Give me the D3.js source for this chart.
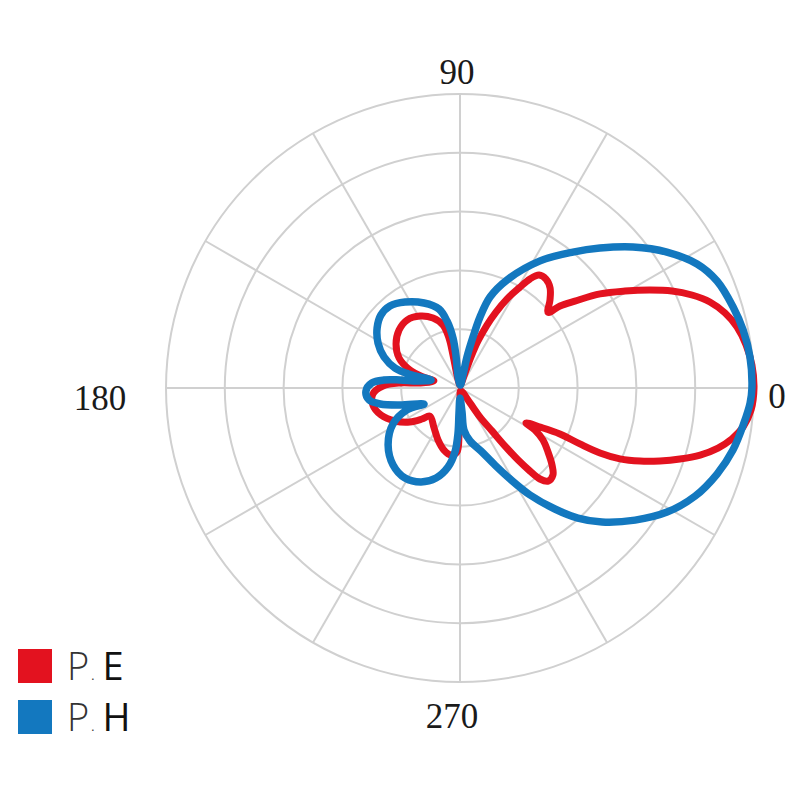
<!DOCTYPE html>
<html>
<head>
<meta charset="utf-8">
<title>Radiation pattern</title>
<style>
  body { margin: 0; background: #fff; }
</style>
</head>
<body>
<svg id="chart"></svg>
<script src="https://d3js.org/d3.v7.min.js"></script>
<script>
// points in drawing order: angle in degrees (counter-clockwise, 0 = right), value normalised to the max
var eAngles = [0, 4.5, 8.55, 12.4, 15.8, 19.0, 21.85, 24.6, 27.3, 30.45, 33.9, 37.1, 39.35, 40.6,
  44.35, 48.0, 51.7, 55.0, 57.3, 59.45, 62.2, 64.65, 66.8, 69.05, 70.5, 71.6, 80, 95,
  103, 102, 102.4, 105.1, 111.1, 119.05, 127.9, 136.45, 145.5, 153.8, 160.2, 163.4, 164.9,
  172.9, 175.2, 178.5, 183.9, 191.1, 198.9, 206.9, 214.2, 219.2, 223.0,
  237, 247.1, 255.5, 262.3, 267.3, 268.8, 270, 270, 285,
  303.7, 304.6, 306.7, 307.8, 308.9, 310.1, 311.3, 313.4, 316.9, 320.1, 324.0, 327.94, 330.75, 332.1,
  334.0, 335.3, 335.0, 335.1, 336.1, 337.9, 339.95, 342.1, 344.4, 346.9, 349.4, 352.15, 355.7];
var eValues = [1.0, 0.996, 0.984, 0.965, 0.937, 0.899, 0.850, 0.793, 0.727, 0.651, 0.574, 0.490, 0.440, 0.395,
  0.428, 0.458, 0.472, 0.469, 0.441, 0.395, 0.342, 0.286, 0.233, 0.171, 0.112, 0.054, 0.01, 0.01,
  0.045, 0.115, 0.174, 0.222, 0.255, 0.280, 0.293, 0.286, 0.264, 0.231, 0.181, 0.131, 0.092,
  0.137, 0.205, 0.262, 0.297, 0.302, 0.284, 0.248, 0.206, 0.167, 0.140,
  0.162, 0.192, 0.218, 0.230, 0.218, 0.160, 0.092, 0.034, 0.01,
  0.061, 0.120, 0.182, 0.250, 0.315, 0.369, 0.412, 0.436, 0.433, 0.408, 0.370, 0.333, 0.292, 0.254,
  0.303, 0.374, 0.450, 0.525, 0.595, 0.661, 0.724, 0.786, 0.848, 0.901, 0.941, 0.972, 0.993];

var hAngles = [0, 6.1, 11.58, 16.53, 22.6, 27.62, 33.3, 39.18, 45, 50.27, 57.79, 66.48, 71.75, 74.27, 75.7, 77.3, 77, 85,
  99.5, 97.1, 98.0, 101.0, 104.9, 112.95, 122.6, 130.5, 137.3, 144.1, 151.25, 157.8, 162.9, 164.85, 164.6,
  170.5, 172.4, 174.0, 176.7, 181.8, 187.5, 191.3, 195.8, 204.0,
  202.5, 208.25, 218.4, 229.0, 238.6, 247.5, 255.1, 261.4, 265.5, 267.5, 267.7, 270,
  274.8, 275.4, 280.7, 288.4, 294.4, 298.8, 303.2, 308.1, 312.2, 316.66, 322.97, 329.07, 335.3, 341.5, 347.2, 352.97, 357.0];
var hValues = [0.993, 0.992, 0.983, 0.969, 0.947, 0.910, 0.842, 0.759, 0.673, 0.601, 0.511, 0.401, 0.326, 0.251, 0.179, 0.108, 0.045, 0.01,
  0.041, 0.110, 0.172, 0.232, 0.278, 0.314, 0.347, 0.367, 0.366, 0.348, 0.318, 0.279, 0.231, 0.169, 0.102,
  0.145, 0.206, 0.260, 0.300, 0.320, 0.312, 0.277, 0.212, 0.134,
  0.195, 0.259, 0.312, 0.347, 0.359, 0.346, 0.317, 0.272, 0.218, 0.153, 0.085, 0.034,
  0.082, 0.144, 0.183, 0.226, 0.288, 0.353, 0.435, 0.523, 0.597, 0.664, 0.746, 0.821, 0.880, 0.922, 0.952, 0.973, 0.988];

var ringTicks = [0.2, 0.4, 0.6, 0.8, 1.0];
var spokeAngles = d3.range(0, 360, 30);
var angleLabels = [0, 90, 180, 270];
var seriesNames = ["E", "H"];
var seriesColors = ["#e3121f", "#1378bf"];

var width = 800, height = 800;
var cx = 460, cy = 388, R = 294;

var svg = d3.select("#chart")
  .attr("width", width)
  .attr("height", height);

var r = d3.scaleLinear().domain([0, 1]).range([0, R]);
var rad = function(deg) { return deg * Math.PI / 180; };

var g = svg.append("g").attr("transform", "translate(" + cx + "," + cy + ")");

// grid
g.selectAll("circle.ring")
  .data(ringTicks)
  .enter().append("circle")
  .attr("class", "ring")
  .attr("r", function(d) { return r(d); })
  .attr("fill", "none")
  .attr("stroke", "#d0d0d0")
  .attr("stroke-width", 2);

g.selectAll("line.spoke")
  .data(spokeAngles)
  .enter().append("line")
  .attr("class", "spoke")
  .attr("x1", 0).attr("y1", 0)
  .attr("x2", function(d) { return r(1) * Math.cos(rad(d)); })
  .attr("y2", function(d) { return -r(1) * Math.sin(rad(d)); })
  .attr("stroke", "#d0d0d0")
  .attr("stroke-width", 2);

// angle labels
var labelPos = {
  0: [r(1) + 23, 20],
  90: [-3, -r(1) - 10],
  180: [-r(1) - 66, 22],
  270: [-8, r(1) + 46]
};
g.selectAll("text.angle")
  .data(angleLabels)
  .enter().append("text")
  .attr("class", "angle")
  .attr("x", function(d) { return labelPos[d][0]; })
  .attr("y", function(d) { return labelPos[d][1]; })
  .attr("text-anchor", "middle")
  .attr("font-family", "'Liberation Serif', 'DejaVu Serif', serif")
  .attr("font-size", 35)
  .attr("fill", "#1a1a1a")
  .text(function(d) { return d; });

// curves
var line = d3.lineRadial()
  .angle(function(d) { return rad(90 - d[0]); })
  .radius(function(d) { return r(d[1]); })
  .curve(d3.curveCatmullRomClosed.alpha(0.5));

var eData = d3.zip(eAngles, eValues);
var hData = d3.zip(hAngles, hValues);

g.append("path")
  .datum(eData)
  .attr("d", line)
  .attr("fill", "none")
  .attr("stroke", seriesColors[0])
  .attr("stroke-width", 7)
  .attr("stroke-linejoin", "round");

g.append("path")
  .datum(hData)
  .attr("d", line)
  .attr("fill", "none")
  .attr("stroke", seriesColors[1])
  .attr("stroke-width", 7.5)
  .attr("stroke-linejoin", "round");

// legend
var legend = svg.selectAll("g.legend")
  .data(seriesNames)
  .enter().append("g")
  .attr("class", "legend")
  .attr("transform", function(d, i) { return "translate(18," + (649 + i * 51) + ")"; });

legend.append("rect")
  .attr("width", 34).attr("height", 34)
  .attr("fill", function(d, i) { return seriesColors[i]; });

var lt = legend.append("text")
  .attr("x", 49).attr("y", 31)
  .attr("font-family", "'Open Sans', 'Liberation Sans', sans-serif")
  .attr("font-size", 38);
lt.append("tspan").attr("font-weight", 300).attr("fill", "#333").text("P");
lt.append("tspan").attr("font-size", 12).attr("fill", "#333").attr("dx", 2).text(".");
lt.append("tspan").attr("font-weight", 400).attr("fill", "#111").attr("dx", 8).text(function(d) { return d; });
</script>
</body>
</html>
